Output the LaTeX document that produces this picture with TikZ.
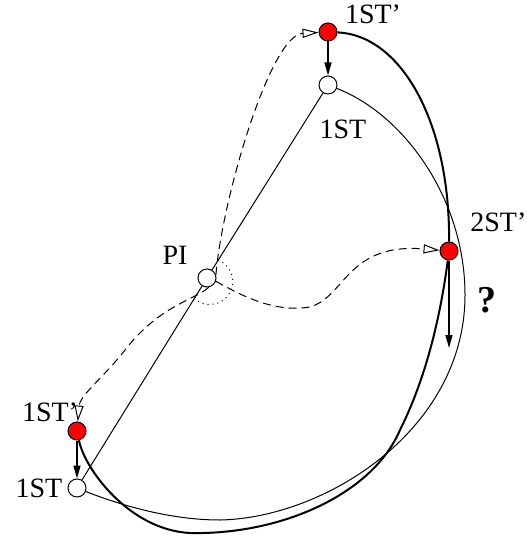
\documentclass[tikz,border=0pt]{standalone}
\usepackage{fontspec}
\setmainfont{Liberation Serif}
\usetikzlibrary{arrows.meta}

\begin{document}
\begin{tikzpicture}[
  x=0.5pt, y=-0.5pt,
  every node/.style={font=\fontsize{14}{16}\selectfont},
  state/.style={circle, fill=#1, draw=black, line width=0.5pt, minimum size=9pt, inner sep=0pt},
  tag/.style={inner sep=0pt},
  move/.style={-{Triangle[length=6.5pt, width=3.5pt]}, line width=0.7pt},
  virt/.style={dash pattern=on 4pt off 2.5pt, line width=0.5pt,
               -{Triangle[open, length=8pt, width=4.5pt]}},
  orbit/.style={line width=0.5pt},
  orbitp/.style={line width=1pt},
]
\useasboundingbox (0,0) rectangle (526,540);

% --- states
\node[state=red]   (t1p) at (328,32)  {};
\node[state=white] (t1)  at (328,85)  {};
\node[state=white] (pi)  at (207,278) {};
\node[state=red]   (s2p) at (449,251) {};
\node[state=red]   (b1p) at (77,431)  {};
\node[state=white] (b1)  at (77,488)  {};
\coordinate (s2end) at (449,348);

% --- labels
\node[tag] (lt1p) at (373,14)  {1ST'};
\node[tag] (lt1)  at (343,129) {1ST};
\node[tag] (lpi)  at (175,255) {PI};
\node[tag, anchor=west] (ls2p) at (470,222) {2ST'};
\node[tag, font=\fontsize{19}{22}\selectfont\bfseries] (lq) at (487,300) {?};
\node[tag] (lb1p) at (50,412)  {1ST'};
\node[tag] (lb1)  at (39,488)  {1ST};

% --- straight line through PI
\draw[orbit] (t1) -- (pi) -- (b1);

% --- thin orbit 1ST -> 1ST
\draw[orbit] (t1) .. controls (405,115) and (465,200) .. (465,295)
  .. controls (465,430) and (325,518) .. (220,520)
  .. controls (170,520) and (120,505) .. (b1);

% --- thick orbit 1ST' -> 2ST' -> 1ST'
\draw[orbitp] (t1p) .. controls (400,35) and (450,120) .. (s2p);
\draw[orbitp] (s2p) .. controls (440,320) and (425,380) .. (400,430)
  .. controls (372,495) and (280,535) .. (190,533)
  .. controls (130,530) and (85,470) .. (b1p);

% --- moves
\draw[move] (t1p) -- (t1);
\draw[move] (b1p) -- (b1);
\draw[move] (s2p) -- (s2end);

% --- virtual paths from PI
\draw[virt] (pi.20) .. controls (222,200) and (270,35) .. (t1p);
\draw[virt] (pi.-80) .. controls (195,300) and (160,305) .. (125,350)
  .. controls (105,376) and (80,395) .. (b1p);
\draw[virt] (pi.-20) .. controls (240,295) and (270,310) .. (300,308)
  .. controls (345,308) and (340,242) .. (s2p);

% --- rotation mark round PI
\draw[dotted, line width=0.5pt] (pi) ++(11,-18) arc[start angle=69, end angle=-132, radius=11.5pt];

\end{tikzpicture}
\end{document}
